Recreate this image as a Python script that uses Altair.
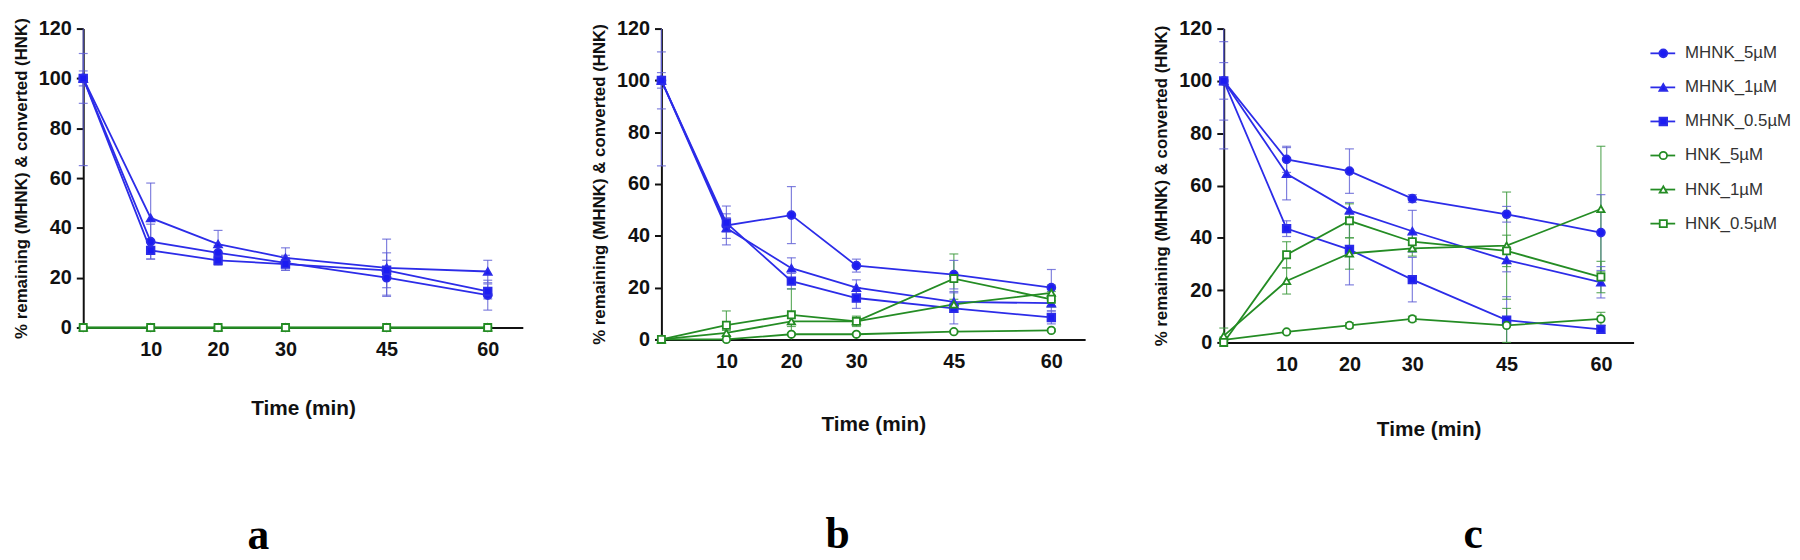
import altair as alt
import pandas as pd
import numpy as np

# ---------------- data ----------------
times = [0, 10, 20, 30, 45, 60]
series_names = ["MHNK_5µM", "MHNK_1µM", "MHNK_0.5µM", "HNK_5µM", "HNK_1µM", "HNK_0.5µM"]
panel_labels = ["a", "b", "c"]
x_tick_values = [10, 20, 30, 45, 60]
y_tick_values = [0, 20, 40, 60, 80, 100, 120]

# panel a (means)
a_mhnk5 = [100, 34.5, 30, 26, 20, 13]
a_mhnk1 = [100, 44, 33.5, 28, 24, 22.5]
a_mhnk05 = [100, 31, 27, 25.5, 23, 14.5]
a_hnk5 = [0, 0, 0, 0, 0, 0]
a_hnk1 = [0, 0, 0, 0, 0, 0]
a_hnk05 = [0, 0, 0, 0, 0, 0]
# panel a (error)
a_mhnk5_err = [10, 7, 3, 3, 7, 6]
a_mhnk1_err = [35, 14, 5.5, 4, 11.5, 4.5]
a_mhnk05_err = [3, 3.5, 2, 2.5, 7, 3]
a_hnk5_err = [0, 0, 0, 0, 0, 0]
a_hnk1_err = [0, 0, 0, 0, 0, 0]
a_hnk05_err = [0, 0, 0, 0, 0, 0]

# panel b (means)
b_mhnk5 = [100, 44, 48, 28.5, 25, 20]
b_mhnk1 = [100, 43, 27.5, 20, 14.5, 14]
b_mhnk05 = [100, 45, 22.5, 16, 12, 8.5]
b_hnk5 = [0, 0, 2, 2, 3, 3.5]
b_hnk1 = [0, 2.5, 7, 7, 13.5, 18]
b_hnk05 = [0, 5.5, 9.5, 7, 23.5, 15.5]
# panel b (error)
b_mhnk5_err = [11, 7.5, 11, 2.5, 5.5, 7]
b_mhnk1_err = [33, 4, 4, 3, 4, 3]
b_mhnk05_err = [3, 3.5, 3, 4, 6, 2.5]
b_hnk5_err = [0, 0.5, 0.5, 0.5, 0.5, 0.5]
b_hnk1_err = [0, 1, 2, 1, 2, 3]
b_hnk05_err = [0, 5.5, 10, 2, 9.5, 3]

# panel c (means)
c_mhnk5 = [100, 70, 65.5, 55, 49, 42]
c_mhnk1 = [100, 64.5, 50.5, 42.5, 31.5, 23]
c_mhnk05 = [100, 43.5, 35.5, 24, 8.5, 5]
c_hnk5 = [1, 4, 6.5, 9, 6.5, 9]
c_hnk1 = [2.5, 23.5, 34, 36, 37, 51]
c_hnk05 = [0, 33.5, 46.5, 38.5, 35, 25]
# panel c (error)
c_mhnk5_err = [7, 5, 8.5, 1.5, 3, 14.5]
c_mhnk1_err = [26, 10, 3, 8, 4.5, 6]
c_mhnk05_err = [15, 3, 13.5, 8.5, 9, 1.5]
c_hnk5_err = [1, 0.5, 1, 1, 6.5, 2.5]
c_hnk1_err = [3, 5, 6, 3, 20.5, 24]
c_hnk05_err = [1, 5, 6.5, 3, 6, 6]

panel_means = {
    "a": [a_mhnk5, a_mhnk1, a_mhnk05, a_hnk5, a_hnk1, a_hnk05],
    "b": [b_mhnk5, b_mhnk1, b_mhnk05, b_hnk5, b_hnk1, b_hnk05],
    "c": [c_mhnk5, c_mhnk1, c_mhnk05, c_hnk5, c_hnk1, c_hnk05],
}
panel_errs = {
    "a": [a_mhnk5_err, a_mhnk1_err, a_mhnk05_err, a_hnk5_err, a_hnk1_err, a_hnk05_err],
    "b": [b_mhnk5_err, b_mhnk1_err, b_mhnk05_err, b_hnk5_err, b_hnk1_err, b_hnk05_err],
    "c": [c_mhnk5_err, c_mhnk1_err, c_mhnk05_err, c_hnk5_err, c_hnk1_err, c_hnk05_err],
}

YMAX = 120
rows = []
for p in panel_labels:
    for s, vals, errs in zip(series_names, panel_means[p], panel_errs[p]):
        for t, v, e in zip(times, vals, errs):
            lo = max(v - e, 0)
            hi = min(v + e, YMAX)
            rows.append({
                "panel": p, "series": s, "time": t, "value": v,
                "lo": lo if e > 0 else None,
                "hi": hi if e > 0 else None,
                "cap_lo": (v - e) if (e > 0 and v - e >= 0) else None,
                "cap_hi": (v + e) if (e > 0 and v + e <= YMAX) else None,
            })
df = pd.DataFrame(rows)

# ---------------- styles ----------------
BLUE = "#2c2ce8"
GREEN = "#248c24"
stroke_colors = [BLUE, BLUE, BLUE, GREEN, GREEN, GREEN]
fill_colors = ["#1c1cf2", "#1c1cf2", "#1c1cf2", "#ffffff", "#ffffff", "#ffffff"]
err_colors = ["#6060d6", "#6060d6", "#6060d6", "#3d9a3d", "#3d9a3d", "#3d9a3d"]
shape_list = ["circle", "triangle-up", "square", "circle", "triangle-up", "square"]
size_list = [64, 52, 62, 62, 72, 66]

stroke_scale = alt.Scale(domain=series_names, range=stroke_colors)
fill_scale = alt.Scale(domain=series_names, range=fill_colors)
err_scale = alt.Scale(domain=series_names, range=err_colors)
shape_scale = alt.Scale(domain=series_names, range=shape_list)
size_scale = alt.Scale(domain=series_names, range=size_list)

AX_FONT = "Liberation Sans"
INK = "#111111"


def make_panel(key, title_pad, letter_x, letter_y):
    d = df[df["panel"] == key]
    xs = alt.Scale(domain=[0, 65.2], nice=False, zero=False)
    ys = alt.Scale(domain=[0, YMAX], nice=False)
    xax = alt.Axis(values=x_tick_values, ticks=False, grid=False, format="d",
                   domainColor=INK, domainWidth=2, labelFlush=False,
                   labelFont=AX_FONT, labelFontSize=20, labelFontWeight="bold",
                   labelColor=INK, labelPadding=12,
                   title="Time (min)", titleFont=AX_FONT, titleFontSize=21,
                   titleFontWeight="bold", titleColor=INK, titlePadding=title_pad)
    yax = alt.Axis(values=y_tick_values, grid=False, tickSize=7, tickWidth=2,
                   tickColor=INK, domainColor=INK, domainWidth=2, labelFlush=False,
                   labelFont=AX_FONT, labelFontSize=20, labelFontWeight="bold",
                   labelColor=INK, labelPadding=5,
                   title="% remaining (MHNK) & converted (HNK)", titleFont=AX_FONT,
                   titleFontSize=17, titleFontWeight="bold", titleColor=INK,
                   titlePadding=8)
    X = alt.X("time:Q", scale=xs, axis=xax)
    base = alt.Chart(d)
    col = alt.Color("series:N", scale=err_scale, legend=None)
    bars = base.mark_rule(strokeWidth=1.2, opacity=0.8).encode(
        x=X, y=alt.Y("lo:Q", scale=ys, axis=yax), y2="hi:Q", color=col)
    cap_lo = base.mark_tick(orient="horizontal", size=9, thickness=1.2, opacity=0.8).encode(
        x=X, y=alt.Y("cap_lo:Q", scale=ys, axis=yax), color=col)
    cap_hi = base.mark_tick(orient="horizontal", size=9, thickness=1.2, opacity=0.8).encode(
        x=X, y=alt.Y("cap_hi:Q", scale=ys, axis=yax), color=col)
    lines = base.mark_line(strokeWidth=1.8).encode(
        x=X, y=alt.Y("value:Q", scale=ys, axis=yax),
        stroke=alt.Stroke("series:N", scale=stroke_scale, legend=None),
        detail="series:N", order="time:Q")
    pts = base.mark_point(strokeWidth=1.8, opacity=1, fillOpacity=1).encode(
        x=X, y=alt.Y("value:Q", scale=ys, axis=yax),
        stroke=alt.Stroke("series:N", scale=stroke_scale, legend=None),
        fill=alt.Fill("series:N", scale=fill_scale, legend=None),
        shape=alt.Shape("series:N", scale=shape_scale, legend=None),
        size=alt.Size("series:N", scale=size_scale, legend=None))
    letter = alt.Chart(pd.DataFrame({"label": [key]})).mark_text(
        font="Liberation Serif", fontSize=44, fontWeight="bold", align="center",
        baseline="alphabetic", color="#000000").encode(
        x=alt.value(letter_x), y=alt.value(letter_y), text="label:N")
    return alt.layer(bars, cap_lo, cap_hi, lines, pts, letter)


pa = make_panel("a", 39, 177, 526).properties(width=444, height=302)
pb = make_panel("b", 43, 178, 525).properties(width=428, height=314)

wc, hc = 414, 317
pc_inner = make_panel("c", 45, 252, 525)

leg_df = pd.DataFrame({"series": series_names, "idx": list(range(len(series_names)))})
ly = alt.Y("idx:Q", scale=alt.Scale(domain=[0, 5], range=[25, 197]), axis=None)
leg_base = alt.Chart(leg_df)
leg_rule = leg_base.mark_rule(strokeWidth=1.8).encode(
    x=alt.value(wc + 17), x2=alt.value(wc + 42), y=ly,
    stroke=alt.Stroke("series:N", scale=stroke_scale, legend=None))
leg_pt = leg_base.mark_point(strokeWidth=1.8, opacity=1, fillOpacity=1).encode(
    x=alt.value(wc + 30), y=ly,
    stroke=alt.Stroke("series:N", scale=stroke_scale, legend=None),
    fill=alt.Fill("series:N", scale=fill_scale, legend=None),
    shape=alt.Shape("series:N", scale=shape_scale, legend=None),
    size=alt.Size("series:N", scale=size_scale, legend=None))
leg_txt = leg_base.mark_text(align="left", baseline="middle", font=AX_FONT,
                             fontSize=17, color="#333333").encode(
    x=alt.value(wc + 52), y=ly, text="series:N")
legend_layer = alt.layer(leg_rule, leg_pt, leg_txt)

pc = alt.layer(pc_inner, legend_layer).resolve_scale(y="independent").properties(
    width=wc, height=hc)

chart = alt.hconcat(pa, pb, pc, spacing=68).properties(
    padding={"left": 4, "top": 7, "right": 0, "bottom": 0}
).configure_view(stroke=None)

chart.save("out.html", embed_options={"renderer": "svg", "actions": False})
